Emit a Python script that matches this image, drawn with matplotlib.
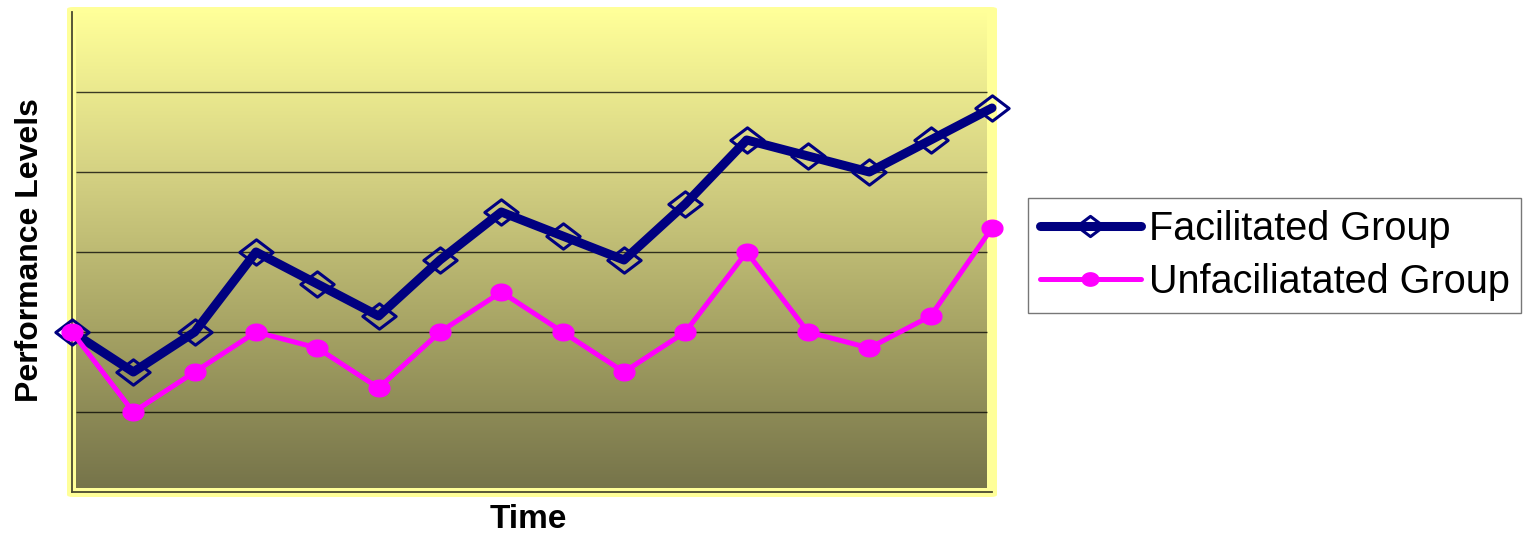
import numpy as np
import matplotlib
matplotlib.use("Agg")
import matplotlib.pyplot as plt
from matplotlib.path import Path
from matplotlib.patches import FancyBboxPatch
from matplotlib.colors import LinearSegmentedColormap

# ---- data ----
time_points = list(range(1, 17))
facilitated = [2.0, 1.5, 2.0, 3.0, 2.6, 2.2, 2.9, 3.5, 3.2, 2.9, 3.6, 4.4, 4.2, 4.0, 4.4, 4.8]
unfacilitated = [2.0, 1.0, 1.5, 2.0, 1.8, 1.3, 2.0, 2.5, 2.0, 1.5, 2.0, 3.0, 2.0, 1.8, 2.2, 3.3]
series_labels = ["Facilitated Group", "Unfaciliatated Group"]
gridline_levels = [1, 2, 3, 4, 5]

plt.rcParams['font.family'] = ['Liberation Sans', 'DejaVu Sans']

W, H = 1530, 536
fig = plt.figure(figsize=(W / 100, H / 100), dpi=100)

# yellow rounded frame behind plot area
frame = FancyBboxPatch((67 / W, 1 - 497 / H), (997 - 67) / W, (497 - 7) / H,
                       boxstyle="round,pad=0,rounding_size=0.004",
                       transform=fig.transFigure, facecolor="#FFFF99",
                       edgecolor="none", zorder=-5)
fig.patches.append(frame)

ax = fig.add_axes([72 / W, 1 - 492 / H, (992 - 72) / W, 480 / H])
ax.set_zorder(2)
ax.set_facecolor("none")
x0, x1 = time_points[0], time_points[-1]
ppx = (992 - 72) / (x1 - x0)  # pixels per x unit

# gradient background
cmap = LinearSegmentedColormap.from_list("g", ["#76744A", "#A6A364", "#D5D283", "#FFFF99"])
grad = np.linspace(0, 1, 256).reshape(-1, 1)
gx0 = x0 + 4 / ppx
gx1 = x0 + (987 - 72) / ppx
ax.imshow(grad, cmap=cmap, origin="lower", aspect="auto",
          extent=[gx0, gx1, 4 / 80, 6], zorder=0, interpolation="bilinear")

ax.hlines(gridline_levels, gx0, gx1, colors="black", linewidth=1.0, alpha=0.75, zorder=1)

diamond = Path([(0, -0.76), (1, 0), (0, 0.76), (-1, 0), (0, -0.76)],
               [Path.MOVETO, Path.LINETO, Path.LINETO, Path.LINETO, Path.CLOSEPOLY])
t = np.linspace(0, 2 * np.pi, 40)
ellipse = Path(np.column_stack([np.cos(t), 0.8 * np.sin(t)]))

l1, = ax.plot(time_points, facilitated, color="#000080", linewidth=6.5,
              solid_capstyle="round", solid_joinstyle="round",
              marker=diamond, markersize=24, markerfacecolor="none",
              markeredgecolor="#000080", markeredgewidth=2.2,
              label=series_labels[0], zorder=3, clip_on=False)
l2, = ax.plot(time_points, unfacilitated, color="#FF00FF", linewidth=3.6,
              solid_capstyle="round",
              marker=ellipse, markersize=15, markerfacecolor="#FF00FF",
              markeredgecolor="#FF00FF", label=series_labels[1],
              zorder=4, clip_on=False)

ax.set_xlim(x0, x1)
ax.set_ylim(0, 6)
ax.set_xticks([])
ax.set_yticks([])
for s in ["top", "right"]:
    ax.spines[s].set_visible(False)
for s in ["left", "bottom"]:
    ax.spines[s].set_color("#4a4a30")
    ax.spines[s].set_linewidth(1.3)

fig.text(30 / W, 1 - 250 / H, "Performance Levels", rotation=90,
         fontsize=23, fontweight="bold", ha="center", va="center")
fig.text(528 / W, 1 - 519 / H, "Time", fontsize=24, fontweight="bold",
         ha="center", va="center")

leg = fig.legend(handles=[l1, l2], loc="upper left",
                 bbox_to_anchor=(1028 / W, 1 - 198 / H), borderaxespad=0,
                 fontsize=28.5, handlelength=2.55, handletextpad=0.2,
                 labelspacing=0.38, borderpad=0.3, fancybox=False,
                 frameon=True, markerscale=0.8)
leg.get_frame().set_edgecolor("#555555")
leg.get_frame().set_linewidth(1.0)

fig.savefig("out.png", dpi=100)
